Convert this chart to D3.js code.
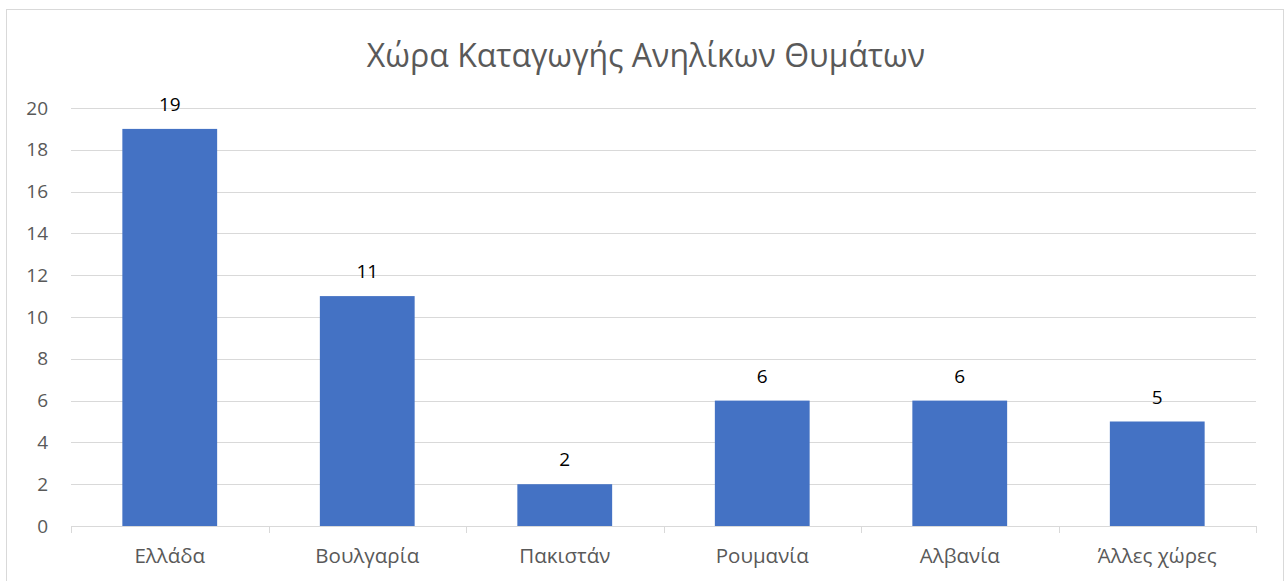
<!DOCTYPE html>
<html>
<head>
<meta charset="utf-8">
<script src="https://cdn.jsdelivr.net/npm/d3@7"></script>
<style>
  html, body { margin: 0; padding: 0; background: #fff; }
  svg { display: block; }
  text { font-family: "Open Sans", sans-serif; }
</style>
</head>
<body>
<svg id="chart" width="1286" height="581"></svg>
<script>
// chart data
let chartTitle = 'Χώρα Καταγωγής Ανηλίκων Θυμάτων';
let countries = ['Ελλάδα', 'Βουλγαρία', 'Πακιστάν', 'Ρουμανία', 'Αλβανία', 'Άλλες χώρες'];
let victims = [19, 11, 2, 6, 6, 5];
let yTicks = [0, 2, 4, 6, 8, 10, 12, 14, 16, 18, 20];

let svg = d3.select('#chart');

// outer chart border
svg.append('rect')
    .attr('x', 6.5)
    .attr('y', 9.5)
    .attr('width', 1277)
    .attr('height', 600)
    .attr('fill', '#fff')
    .attr('stroke', '#d9d9d9')
    .attr('stroke-width', 1);

let margin = {top: 108, right: 30, bottom: 55, left: 71},
    width = 1256 - margin.left,
    height = 526 - margin.top,
    g = svg.append('g').attr('transform', 'translate(' + margin.left + ',' + margin.top + ')');

let x = d3.scaleBand()
    .domain(countries)
    .range([0, width])
    .paddingInner(0.52)
    .paddingOuter(0.26);

let y = d3.scaleLinear()
    .domain([0, 20])
    .range([height, 0]);

// gridlines
g.append('g')
    .selectAll('line')
    .data(yTicks.filter(d => d > 0))
    .enter().append('line')
    .attr('x1', 0)
    .attr('x2', width)
    .attr('y1', d => Math.round(y(d)) + 0.5)
    .attr('y2', d => Math.round(y(d)) + 0.5)
    .attr('stroke', '#d9d9d9')
    .attr('stroke-width', 1);

// y axis labels
let yAxis = g.append('g')
    .call(d3.axisLeft(y).tickValues(yTicks).tickSize(0).tickPadding(23));
yAxis.select('.domain').remove();
yAxis.selectAll('text')
    .attr('fill', '#595959')
    .style('font-size', '19px')
    .style('font-family', '"Open Sans", sans-serif');

// bars
g.selectAll('.bar')
    .data(countries)
    .enter().append('rect')
    .attr('class', 'bar')
    .attr('x', d => x(d))
    .attr('width', x.bandwidth())
    .attr('y', (d, i) => y(victims[i]))
    .attr('height', (d, i) => height - y(victims[i]))
    .attr('fill', '#4472c4');

// data labels
g.selectAll('.label')
    .data(countries)
    .enter().append('text')
    .attr('class', 'label')
    .attr('x', d => x(d) + x.bandwidth() / 2)
    .attr('y', (d, i) => y(victims[i]) - 18)
    .attr('text-anchor', 'middle')
    .attr('fill', '#000')
    .style('font-size', '19px')
    .text((d, i) => victims[i]);

// x axis: baseline with ticks between categories
let xAxis = g.append('g').attr('transform', 'translate(0,' + height + ')');
xAxis.append('line')
    .attr('x1', 0)
    .attr('x2', width)
    .attr('y1', 0.5)
    .attr('y2', 0.5)
    .attr('stroke', '#d9d9d9')
    .attr('stroke-width', 1);
let step = x.step();
xAxis.selectAll('.xtick')
    .data(d3.range(countries.length + 1))
    .enter().append('line')
    .attr('class', 'xtick')
    .attr('x1', i => Math.round(i * step) + 0.5)
    .attr('x2', i => Math.round(i * step) + 0.5)
    .attr('y1', 0)
    .attr('y2', 7)
    .attr('stroke', '#d9d9d9')
    .attr('stroke-width', 1);
xAxis.selectAll('.xlabel')
    .data(countries)
    .enter().append('text')
    .attr('class', 'xlabel')
    .attr('x', d => x(d) + x.bandwidth() / 2)
    .attr('y', 37)
    .attr('text-anchor', 'middle')
    .attr('fill', '#595959')
    .style('font-size', '20.5px')
    .text(d => d);

// title
svg.append('text')
    .attr('x', 646)
    .attr('y', 67)
    .attr('text-anchor', 'middle')
    .attr('fill', '#595959')
    .style('font-size', '32px')
    .text(chartTitle);
</script>
</body>
</html>
